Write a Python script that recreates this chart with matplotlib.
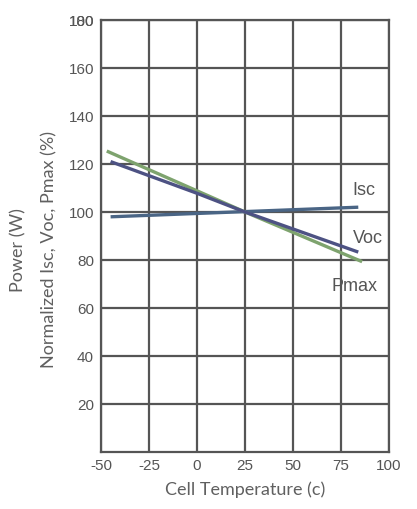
import matplotlib
matplotlib.use("Agg")
import matplotlib.pyplot as plt
import matplotlib.transforms as mtransforms

# Data
temp_isc = [-45, 84]
isc = [98, 102]
temp_voc = [-45, 0, 25, 84]
voc = [121, 107.8, 100, 83.3]
temp_pmax = [-47, 25, 86]
pmax = [125.4, 100, 79.3]

xticks = [-50, -25, 0, 25, 50, 75, 100]
yticks = [20, 40, 60, 80, 100, 120, 140, 160, 180]
series_labels = ["Isc", "Voc", "Pmax"]

grid_c = "#555555"
txt_c = "#555555"
lab_c = "#606060"
tick_fs = 11

fig = plt.figure(figsize=(4.17, 5.09), dpi=100)
ax = fig.add_axes([101/417, 57/509, 288/417, 432/509])
ax.set_xlim(-50, 100)
ax.set_ylim(0, 180)

ax.set_xticks(xticks)
ax.set_yticks(yticks)
ax.set_xticklabels([str(v) for v in xticks], fontsize=tick_fs, color=txt_c, family="Liberation Sans")
ax.set_yticklabels([str(v) for v in yticks], fontsize=tick_fs, color=txt_c, family="Liberation Sans")
ax.tick_params(length=0, pad=5)

# overlapping "100" on the top label, as in the reference
trans = ax.get_yaxis_transform() + mtransforms.ScaledTranslation(-5/72, 0, fig.dpi_scale_trans)
ax.text(0, 180, "100", transform=trans, ha="right", va="center_baseline",
        fontsize=tick_fs, color=txt_c, family="Liberation Sans")

ax.grid(True, color=grid_c, linewidth=1.6)
for s in ax.spines.values():
    s.set_color(grid_c)
    s.set_linewidth(1.6)
ax.set_axisbelow(True)

ax.plot(temp_isc, isc, color="#4a6585", linewidth=2.4, solid_capstyle="butt")
ax.plot(temp_pmax, pmax, color="#7ea36e", linewidth=2.4, solid_capstyle="butt")
ax.plot(temp_voc, voc, color="#4d5283", linewidth=2.4, solid_capstyle="butt")

label_pos = [(81, 107), (81, 87), (70.3, 67)]
for lab, (lx, ly) in zip(series_labels, label_pos):
    ax.text(lx, ly, lab, fontsize=13, color=txt_c, family="Liberation Sans", va="baseline")

ax.set_xlabel("Cell Temperature (c)", fontsize=13, color=lab_c, family="Lato", labelpad=6)
fig.text(49/417, 1 - 250/509, "Normalized Isc, Voc, Pmax (%)", rotation=90,
         ha="center", va="center", fontsize=13, color=lab_c, family="Lato")
fig.text(18.5/417, 1 - 250/509, "Power (W)", rotation=90,
         ha="center", va="center", fontsize=13, color=lab_c, family="Lato")

fig.savefig("out.png", dpi=100)
